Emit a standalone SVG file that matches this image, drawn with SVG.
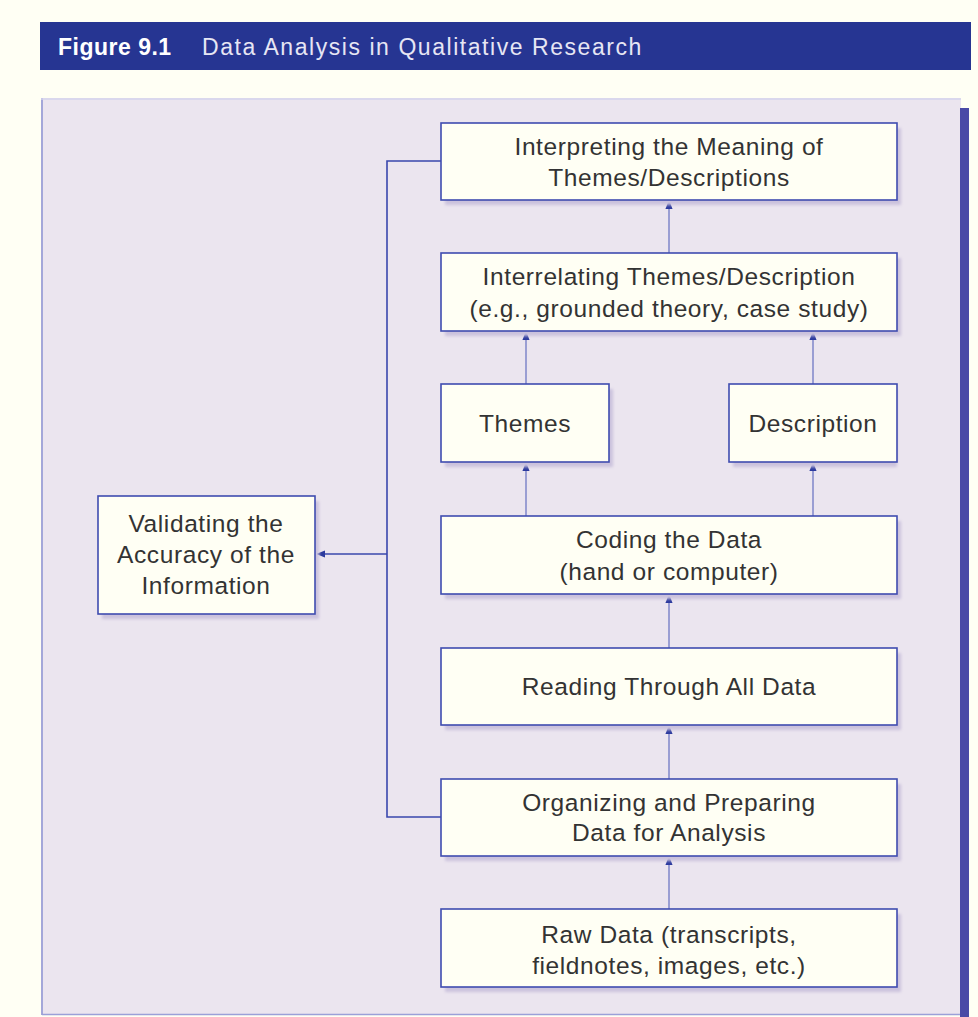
<svg xmlns="http://www.w3.org/2000/svg" width="978" height="1017" viewBox="0 0 978 1017">
  <defs>
    <style>
      .box { fill: #fffff4; stroke: #3f4cb0; stroke-width: 1.6; }
      .shadow { fill: #cbc2dd; filter: url(#soft); }
      .lbl { font-family: "Liberation Sans", Arial, sans-serif; font-size: 24.5px; letter-spacing: 0.6px; fill: #333333; text-anchor: middle; }
      .flow { stroke: #6f78c4; stroke-width: 1.3; fill: none; }
      .loop { stroke: #3a47ad; stroke-width: 1.6; fill: none; }
    </style>
    <filter id="soft" x="-10%" y="-10%" width="120%" height="130%">
      <feGaussianBlur stdDeviation="1.6"/>
    </filter>
    <marker id="tip" viewBox="0 0 10 8" refX="9" refY="4" markerWidth="9" markerHeight="7.2" markerUnits="userSpaceOnUse" orient="auto">
      <path d="M0,0 L10,4 L0,8 z" fill="#2c3a9e"/>
    </marker>
  </defs>

  <!-- page -->
  <rect x="0" y="0" width="978" height="1017" fill="#fffff4"/>

  <!-- title band -->
  <g id="title">
    <rect x="40" y="22" width="931" height="48" fill="#263592"/>
    <text x="58" y="55" font-family="Liberation Sans, Arial, sans-serif" font-size="23" font-weight="bold" letter-spacing="0.5" fill="#ffffff">Figure 9.1</text>
    <text x="202" y="55" font-family="Liberation Sans, Arial, sans-serif" font-size="23" fill="#e6e6f4" letter-spacing="1.55">Data Analysis in Qualitative Research</text>
  </g>

  <!-- figure panel -->
  <g id="panel">
    <rect x="41" y="98" width="920" height="917" fill="#ebe5ef"/>
    <line x1="42" y1="98" x2="42" y2="1015" stroke="#8c92d2" stroke-width="1.5"/>
    <line x1="41" y1="99" x2="961" y2="99" stroke="#d4d3ec" stroke-width="1.5"/>
    <line x1="42" y1="1014.5" x2="961" y2="1014.5" stroke="#9aa0d8" stroke-width="1.5"/>
    <rect x="960" y="108" width="9" height="909" fill="#4a4aa6"/>
  </g>

  <!-- connectors -->
  <g id="connectors">
    <line class="flow" x1="669" y1="909" x2="669" y2="857" marker-end="url(#tip)"/>
    <line class="flow" x1="669" y1="779" x2="669" y2="726" marker-end="url(#tip)"/>
    <line class="flow" x1="669" y1="648" x2="669" y2="595" marker-end="url(#tip)"/>
    <line class="flow" x1="526" y1="516" x2="526" y2="463" marker-end="url(#tip)"/>
    <line class="flow" x1="813" y1="516" x2="813" y2="463" marker-end="url(#tip)"/>
    <line class="flow" x1="526" y1="384" x2="526" y2="332" marker-end="url(#tip)"/>
    <line class="flow" x1="813" y1="384" x2="813" y2="332" marker-end="url(#tip)"/>
    <line class="flow" x1="669" y1="253" x2="669" y2="201" marker-end="url(#tip)"/>
    <polyline class="loop" points="441,161 387,161 387,817 441,817"/>
    <line class="loop" x1="387" y1="554" x2="317" y2="554" marker-end="url(#tip)"/>
  </g>

  <!-- nodes -->
  <g id="interpreting">
    <rect class="shadow" x="445" y="128" width="456" height="77"/>
    <rect class="box" x="441" y="123" width="456" height="77"/>
    <text class="lbl" x="669" y="155">Interpreting the Meaning of</text>
    <text class="lbl" x="669" y="186">Themes/Descriptions</text>
  </g>
  <g id="interrelating">
    <rect class="shadow" x="445" y="258" width="456" height="78"/>
    <rect class="box" x="441" y="253" width="456" height="78"/>
    <text class="lbl" x="669" y="285">Interrelating Themes/Description</text>
    <text class="lbl" x="669" y="317">(e.g., grounded theory, case study)</text>
  </g>
  <g id="themes">
    <rect class="shadow" x="445" y="389" width="168" height="78"/>
    <rect class="box" x="441" y="384" width="168" height="78"/>
    <text class="lbl" x="525" y="432">Themes</text>
  </g>
  <g id="description">
    <rect class="shadow" x="733" y="389" width="164" height="78"/>
    <rect class="box" x="729" y="384" width="168" height="78"/>
    <text class="lbl" x="813" y="432">Description</text>
  </g>
  <g id="coding">
    <rect class="shadow" x="445" y="521" width="456" height="78"/>
    <rect class="box" x="441" y="516" width="456" height="78"/>
    <text class="lbl" x="669" y="548">Coding the Data</text>
    <text class="lbl" x="669" y="580">(hand or computer)</text>
  </g>
  <g id="reading">
    <rect class="shadow" x="445" y="653" width="456" height="77"/>
    <rect class="box" x="441" y="648" width="456" height="77"/>
    <text class="lbl" x="669" y="695">Reading Through All Data</text>
  </g>
  <g id="organizing">
    <rect class="shadow" x="445" y="784" width="456" height="77"/>
    <rect class="box" x="441" y="779" width="456" height="77"/>
    <text class="lbl" x="669" y="811">Organizing and Preparing</text>
    <text class="lbl" x="669" y="841">Data for Analysis</text>
  </g>
  <g id="rawdata">
    <rect class="shadow" x="445" y="914" width="456" height="78"/>
    <rect class="box" x="441" y="909" width="456" height="78"/>
    <text class="lbl" x="669" y="943">Raw Data (transcripts,</text>
    <text class="lbl" x="669" y="974">fieldnotes, images, etc.)</text>
  </g>
  <g id="validating">
    <rect class="shadow" x="102" y="501" width="217" height="118"/>
    <rect class="box" x="98" y="496" width="217" height="118"/>
    <text class="lbl" x="206" y="532">Validating the</text>
    <text class="lbl" x="206" y="563">Accuracy of the</text>
    <text class="lbl" x="206" y="594">Information</text>
  </g>
</svg>
